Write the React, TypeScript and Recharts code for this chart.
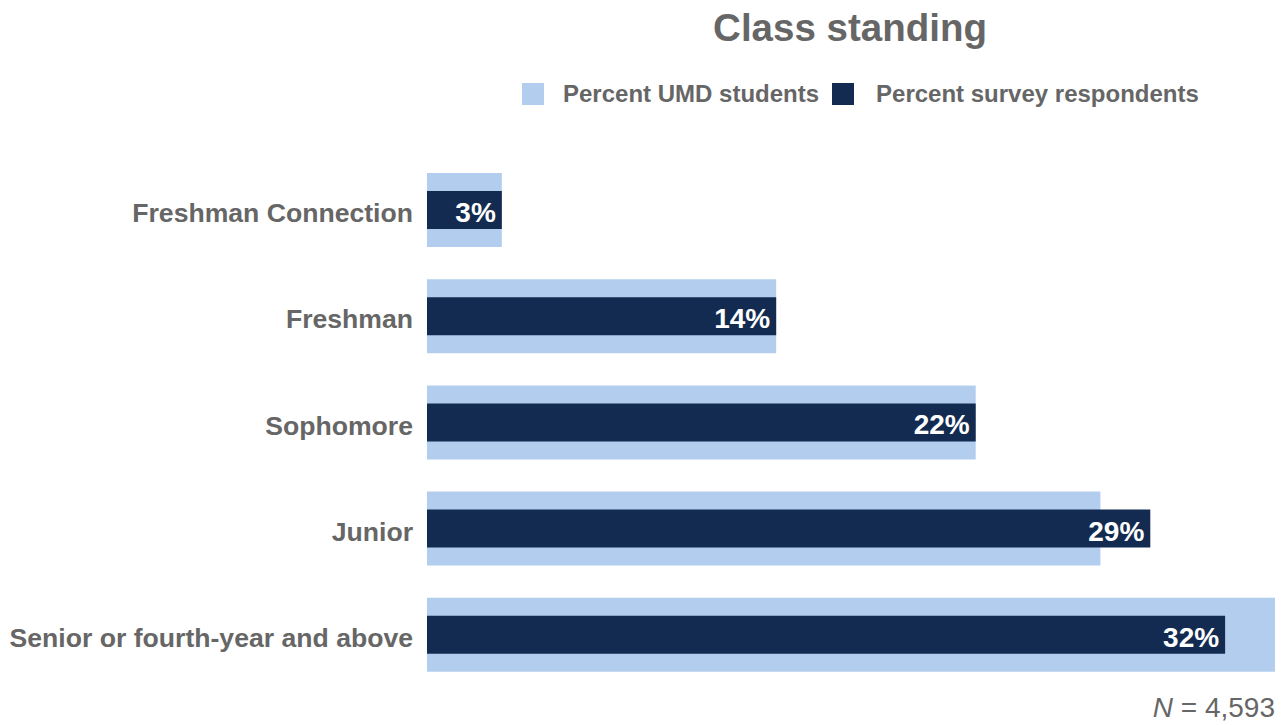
import React from "react";
import { BarChart, Bar, XAxis, YAxis, LabelList } from "recharts";

const categories = [
  "Freshman Connection",
  "Freshman",
  "Sophomore",
  "Junior",
  "Senior or fourth-year and above",
];
const umdStudents = [3, 14, 22, 27, 34];
const surveyRespondents = [3, 14, 22, 29, 32];

const data = categories.map((name, i) => ({
  name,
  umd: umdStudents[i],
  survey: surveyRespondents[i],
}));

const LIGHT = "#b3cdef";
const DARK = "#132b50";
const GRAY = "#666666";
const FONT = "'Liberation Sans', Arial, sans-serif";

const CategoryTick = (props: any) => {
  const { x, y, payload } = props;
  return (
    <text
      x={x}
      y={y}
      dy={12}
      textAnchor="end"
      fill={GRAY}
      fontSize={26.6}
      fontWeight="bold"
      fontFamily={FONT}
    >
      {payload.value}
    </text>
  );
};

export default function App() {
  return (
    <div
      style={{
        position: "absolute",
        left: 0,
        top: 0,
        width: 1288,
        height: 725,
        background: "#fff",
        fontFamily: FONT,
      }}
    >
      <div
        style={{
          position: "absolute",
          left: 850,
          top: 6,
          transform: "translateX(-50%)",
          fontSize: 38.5,
          fontWeight: "bold",
          color: GRAY,
          whiteSpace: "nowrap",
        }}
      >
        Class standing
      </div>
      <div
        style={{
          position: "absolute",
          left: 522,
          top: 80,
          display: "flex",
          alignItems: "center",
          fontSize: 24,
          fontWeight: "bold",
          color: GRAY,
          whiteSpace: "nowrap",
        }}
      >
        <span style={{ display: "inline-block", width: 22, height: 22, background: LIGHT, marginRight: 19 }} />
        <span>Percent UMD students</span>
        <span style={{ display: "inline-block", width: 22, height: 22, background: DARK, marginLeft: 13, marginRight: 22 }} />
        <span>Percent survey respondents</span>
      </div>
      <div style={{ position: "absolute", left: 0, top: 0 }}>
        <BarChart
          width={1288}
          height={725}
          data={data}
          layout="vertical"
          margin={{ top: 157, right: 13, bottom: 37, left: 0 }}
          barCategoryGap={0}
        >
          <XAxis type="number" domain={[0, 34]} hide />
          <YAxis
            yAxisId="a"
            type="category"
            dataKey="name"
            width={427}
            axisLine={false}
            tickLine={false}
            tickSize={0}
            tickMargin={14}
            tick={<CategoryTick />}
          />
          <YAxis yAxisId="b" type="category" dataKey="name" hide />
          <Bar yAxisId="a" dataKey="umd" fill={LIGHT} barSize={74} isAnimationActive={false} />
          <Bar yAxisId="b" dataKey="survey" fill={DARK} barSize={38} isAnimationActive={false}>
            <LabelList
              dataKey="survey"
              position="insideRight"
              offset={6}
              dy={2}
              formatter={(v: any) => `${v}%`}
              style={{ fill: "#ffffff", fontSize: 28, fontWeight: "bold", fontFamily: FONT }}
            />
          </Bar>
        </BarChart>
      </div>
      <div
        style={{
          position: "absolute",
          right: 13,
          top: 692,
          fontSize: 28,
          color: GRAY,
          whiteSpace: "nowrap",
        }}
      >
        <i>N</i> = 4,593
      </div>
    </div>
  );
}
